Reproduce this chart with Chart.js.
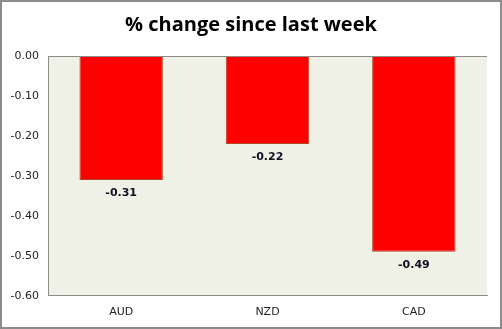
<!DOCTYPE html>
<html>
<head>
<meta charset="utf-8">
<script src="https://cdn.jsdelivr.net/npm/chart.js@4/dist/chart.umd.min.js"></script>
<style>
  html, body { margin: 0; padding: 0; background: #fff; }
  #wrap { width: 502px; height: 329px; position: relative; }
</style>
</head>
<body>
<div id="wrap"><canvas id="c" width="502" height="329"></canvas></div>
<script>
// data
const chartTitle = '% change since last week';
const categories = ['AUD', 'NZD', 'CAD'];
const changeValues = [-0.31, -0.22, -0.49];
const yTicks = [0, -0.1, -0.2, -0.3, -0.4, -0.5, -0.6];

// plot background, title, outer frame
const frame = {
  id: 'frame',
  beforeDraw(chart) {
    const { ctx, chartArea: a } = chart;
    ctx.save();
    ctx.fillStyle = '#eff1e7';
    ctx.fillRect(a.left, a.top, a.right - a.left, a.bottom - a.top);
    ctx.restore();
  },
  afterDraw(chart) {
    const { ctx, width, height, chartArea: a } = chart;
    ctx.save();
    // zero line along the top
    ctx.strokeStyle = '#8c8c8c';
    ctx.lineWidth = 1;
    ctx.beginPath();
    ctx.moveTo(a.left, a.top + 0.5);
    ctx.lineTo(a.right, a.top + 0.5);
    ctx.stroke();
    // title
    ctx.font = 'bold 20px "Open Sans", sans-serif';
    ctx.fillStyle = '#000';
    ctx.textAlign = 'center';
    ctx.textBaseline = 'middle';
    ctx.fillText(chartTitle, width / 2, 25);
    // frame
    ctx.lineWidth = 2;
    ctx.strokeRect(1, 1, width - 2, height - 2);
    ctx.restore();
  },
};

// value labels under each bar
const valueLabels = {
  id: 'valueLabels',
  afterDatasetsDraw(chart) {
    const { ctx } = chart;
    const meta = chart.getDatasetMeta(0);
    ctx.save();
    ctx.font = 'bold 11px "DejaVu Sans", sans-serif';
    ctx.fillStyle = '#111122';
    ctx.textAlign = 'center';
    ctx.textBaseline = 'middle';
    meta.data.forEach((bar, i) => {
      ctx.fillText(changeValues[i].toFixed(2), bar.x, bar.y + 13);
    });
    ctx.restore();
  },
};

new Chart(document.getElementById('c'), {
  type: 'bar',
  data: {
    labels: categories,
    datasets: [
      {
        data: changeValues,
        backgroundColor: '#ff0000',
        borderColor: '#b0482a',
        borderWidth: 1,
        borderSkipped: false,
        categoryPercentage: 1,
        barPercentage: 0.57,
      },
    ],
  },
  options: {
    responsive: false,
    animation: false,
    layout: { padding: { left: 0, right: 15, top: 56, bottom: 0 } },
    scales: {
      x: {
        grid: { display: false, drawTicks: false },
        border: { color: '#8c8c8c', width: 1 },
        ticks: {
          color: '#222',
          font: { size: 11, family: '"DejaVu Sans", sans-serif' },
          padding: 10,
        },
      },
      y: {
        min: -0.6,
        max: 0,
        afterFit(scale) { scale.width = 48; },
        afterBuildTicks(scale) { scale.ticks = yTicks.map((v) => ({ value: v })); },
        grid: { display: false, drawTicks: false },
        border: { color: '#8c8c8c', width: 1 },
        ticks: {
          color: '#222',
          font: { size: 11, family: '"DejaVu Sans", sans-serif' },
          padding: 9,
          callback: (v) => Number(v).toFixed(2),
        },
      },
    },
    plugins: {
      legend: { display: false },
      tooltip: { enabled: false },
    },
  },
  plugins: [frame, valueLabels],
});
</script>
</body>
</html>
